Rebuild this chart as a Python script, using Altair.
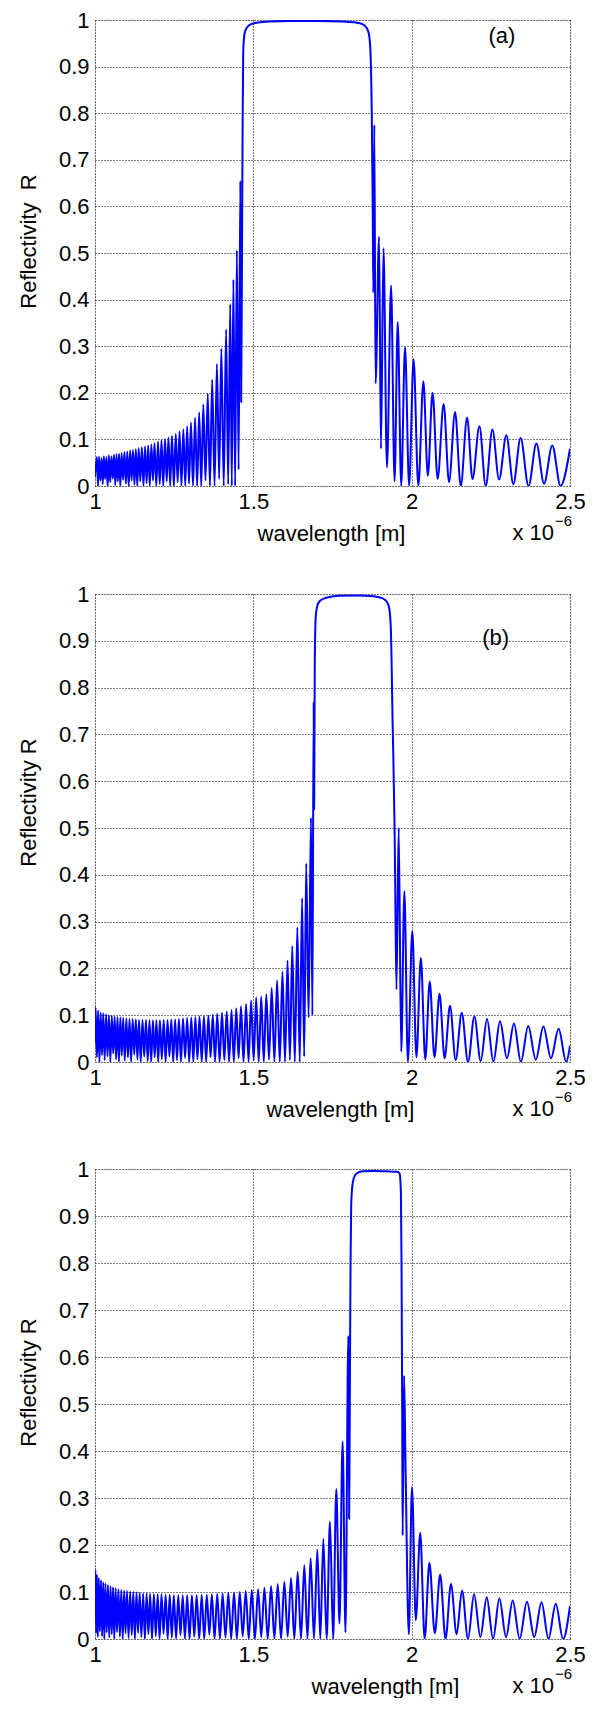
import altair as alt
import pandas as pd

FONT = "Liberation Sans"
BLUE = "#0000ff"
W = 475
FS = 22
XT_Y = 47

x_ticks = [1, 1.5, 2, 2.5]
y_ticks = [0, 0.1, 0.2, 0.3, 0.4, 0.5, 0.6, 0.7, 0.8, 0.9, 1]

# ---------------- panel (a) ----------------  (wavelength in units of 1e-6 m)
a_peak_wl = [1.006, 1.013, 1.021, 1.028, 1.036, 1.044, 1.052, 1.060, 1.068, 1.076, 1.084,
             1.093, 1.102, 1.111, 1.120, 1.129, 1.138, 1.148, 1.158, 1.168, 1.178, 1.188,
             1.199, 1.210, 1.221, 1.232, 1.243, 1.255, 1.267, 1.279, 1.291, 1.303, 1.316,
             1.329, 1.342, 1.356, 1.370, 1.385, 1.399, 1.414, 1.427, 1.437, 1.448, 1.459]
a_peak_r = [0.062, 0.063, 0.060, 0.064, 0.062, 0.066, 0.064, 0.067, 0.068, 0.069, 0.071,
            0.073, 0.074, 0.076, 0.077, 0.079, 0.081, 0.083, 0.085, 0.087, 0.089, 0.092,
            0.095, 0.098, 0.101, 0.104, 0.108, 0.112, 0.117, 0.122, 0.128, 0.136, 0.146,
            0.158, 0.175, 0.198, 0.228, 0.262, 0.295, 0.336, 0.390, 0.443, 0.506, 0.655]
a_trough_wl = [1.000, 1.0095, 1.017, 1.0245, 1.032, 1.040, 1.048, 1.056, 1.064, 1.072, 1.080,
               1.0885, 1.0975, 1.1065, 1.1155, 1.1245, 1.1335, 1.143, 1.153, 1.163, 1.173,
               1.183, 1.1935, 1.2045, 1.2155, 1.2265, 1.2375, 1.249, 1.261, 1.273, 1.285,
               1.297, 1.3095, 1.3225, 1.3355, 1.349, 1.363, 1.3775, 1.392, 1.4065, 1.4205,
               1.432, 1.4425, 1.4535]
a_trough_r = [0.02, 0.0, 0.012, 0.004, 0.015, 0.0, 0.008, 0.016, 0.002, 0.01, 0.0,
              0.013, 0.005, 0.0, 0.012, 0.003, 0.0, 0.01, 0.0, 0.006, 0.0,
              0.012, 0.0, 0.004, 0.0, 0.01, 0.0, 0.0, 0.008, 0.0, 0.0,
              0.005, 0.0, 0.0, 0.0, 0.012, 0.0, 0.0, 0.015, 0.0, 0.004,
              0.0, 0.0, 0.035]
a_band_wl = [1.4615, 1.464, 1.466, 1.468, 1.472, 1.478, 1.490, 1.510, 1.550, 1.620, 1.700,
             1.780, 1.820, 1.845, 1.857, 1.865, 1.870, 1.874, 1.877, 1.879, 1.882, 1.886]
a_band_r = [0.18, 0.47, 0.75, 0.93, 0.97, 0.982, 0.99, 0.994, 0.997, 0.998, 0.998,
            0.997, 0.995, 0.991, 0.984, 0.97, 0.93, 0.80, 0.60, 0.415, 0.775, 0.22]
a_right_wl = [1.897, 1.903, 1.911, 1.922, 1.935, 1.946, 1.956, 1.967, 1.979, 1.992, 2.006,
              2.021, 2.037, 2.051, 2.066, 2.082, 2.101, 2.118, 2.137, 2.155, 2.175, 2.192,
              2.214, 2.234, 2.255, 2.276, 2.299, 2.321, 2.344, 2.369, 2.394, 2.418, 2.444,
              2.470, 2.500]
a_right_r = [0.535, 0.08, 0.51, 0.04, 0.43, 0.01, 0.352, 0.0, 0.298, 0.0, 0.272,
             0.0, 0.225, 0.022, 0.2, 0.015, 0.176, 0.008, 0.159, 0.0, 0.147, 0.015,
             0.128, 0.0, 0.121, 0.014, 0.109, 0.004, 0.103, 0.0, 0.091, 0.005, 0.087,
             0.0, 0.08]

# ---------------- panel (b) ----------------
b_peak_wl = [1.002, 1.010, 1.018, 1.026, 1.035, 1.044, 1.053, 1.062, 1.071, 1.080, 1.089,
             1.099, 1.109, 1.119, 1.129, 1.139, 1.150, 1.161, 1.172, 1.183, 1.194, 1.205,
             1.217, 1.229, 1.241, 1.253, 1.265, 1.278, 1.291, 1.304, 1.317, 1.330, 1.344,
             1.358, 1.372, 1.386, 1.401, 1.416, 1.431, 1.446, 1.461, 1.477, 1.493, 1.509,
             1.525, 1.541, 1.558, 1.575, 1.592, 1.608, 1.623, 1.639, 1.654, 1.667, 1.682]
b_peak_r = [0.117, 0.110, 0.106, 0.104, 0.102, 0.100, 0.099, 0.097, 0.096, 0.095, 0.094,
            0.093, 0.092, 0.092, 0.091, 0.090, 0.090, 0.090, 0.089, 0.089, 0.089, 0.089,
            0.090, 0.090, 0.091, 0.091, 0.092, 0.093, 0.094, 0.095, 0.096, 0.097, 0.098,
            0.099, 0.101, 0.103, 0.105, 0.108, 0.111, 0.115, 0.119, 0.124, 0.131, 0.138,
            0.140, 0.145, 0.158, 0.174, 0.193, 0.217, 0.248, 0.288, 0.350, 0.424, 0.522]
b_trough_wl = [1.000, 1.006, 1.014, 1.022, 1.0305, 1.0395, 1.0485, 1.0575, 1.0665, 1.0755,
               1.0845, 1.094, 1.104, 1.114, 1.124, 1.134, 1.1445, 1.1555, 1.1665, 1.1775,
               1.1885, 1.1995, 1.211, 1.223, 1.235, 1.247, 1.259, 1.2715, 1.2845, 1.2975,
               1.3105, 1.3235, 1.337, 1.351, 1.365, 1.379, 1.3935, 1.4085, 1.4235, 1.4385,
               1.4535, 1.469, 1.485, 1.501, 1.517, 1.533, 1.5495, 1.5665, 1.5835, 1.600,
               1.6155, 1.631, 1.6465, 1.6605, 1.6745]
b_trough_r = [0.04, 0.01, 0.0, 0.015, 0.004, 0.012, 0.0, 0.018, 0.006, 0.0,
              0.014, 0.003, 0.01, 0.0, 0.016, 0.005, 0.0, 0.012, 0.002, 0.0,
              0.01, 0.0, 0.006, 0.0, 0.012, 0.0, 0.004, 0.0, 0.009, 0.0,
              0.0, 0.006, 0.0, 0.0, 0.01, 0.0, 0.0, 0.004, 0.0, 0.0,
              0.008, 0.0, 0.0, 0.003, 0.0, 0.0, 0.005, 0.0, 0.0, 0.0,
              0.004, 0.0, 0.0, 0.012, 0.095]
b_band_wl = [1.6865, 1.6905, 1.692, 1.694, 1.697, 1.702, 1.710, 1.730, 1.770, 1.830, 1.880,
             1.910, 1.922, 1.929, 1.934, 1.940, 1.946, 1.948, 1.952]
b_band_r = [0.10, 0.77, 0.54, 0.85, 0.95, 0.975, 0.985, 0.992, 0.996, 0.997, 0.995,
            0.99, 0.983, 0.97, 0.93, 0.72, 0.50, 0.38, 0.155]
b_right_wl = [1.959, 1.967, 1.977, 1.988, 2.002, 2.015, 2.029, 2.043, 2.057, 2.072, 2.088,
              2.104, 2.121, 2.139, 2.158, 2.178, 2.198, 2.218, 2.238, 2.258, 2.279, 2.301,
              2.323, 2.345, 2.368, 2.392, 2.416, 2.440, 2.464, 2.488, 2.500]
b_right_r = [0.50, 0.022, 0.365, 0.0, 0.28, 0.01, 0.222, 0.005, 0.172, 0.01, 0.146,
             0.008, 0.12, 0.004, 0.105, 0.0, 0.097, 0.002, 0.092, 0.0, 0.087, 0.008,
             0.082, 0.0, 0.077, 0.005, 0.076, 0.008, 0.071, 0.0, 0.035]

# ---------------- panel (c) ----------------
c_peak_wl = [1.001, 1.006, 1.012, 1.019, 1.026, 1.033, 1.041, 1.049, 1.057, 1.065, 1.074,
             1.083, 1.092, 1.101, 1.111, 1.121, 1.131, 1.141, 1.152, 1.163, 1.174, 1.186,
             1.198, 1.210, 1.223, 1.236, 1.249, 1.263, 1.277, 1.291, 1.306, 1.321, 1.337,
             1.353, 1.369, 1.386, 1.403, 1.421, 1.439, 1.457, 1.476, 1.495, 1.515, 1.535,
             1.556, 1.577, 1.598, 1.619, 1.640, 1.661, 1.681, 1.702, 1.721, 1.742, 1.762,
             1.782, 1.800]
c_peak_r = [0.147, 0.137, 0.130, 0.125, 0.121, 0.118, 0.115, 0.112, 0.110, 0.108, 0.106,
            0.104, 0.103, 0.102, 0.101, 0.100, 0.099, 0.098, 0.097, 0.097, 0.096, 0.096,
            0.095, 0.095, 0.094, 0.094, 0.093, 0.093, 0.093, 0.093, 0.093, 0.093, 0.094,
            0.094, 0.095, 0.096, 0.097, 0.098, 0.099, 0.100, 0.102, 0.104, 0.106, 0.109,
            0.113, 0.117, 0.122, 0.130, 0.143, 0.157, 0.172, 0.190, 0.213, 0.250, 0.319,
            0.420, 0.645]
c_trough_wl = [1.000, 1.0035, 1.009, 1.0155, 1.0225, 1.0295, 1.037, 1.045, 1.053, 1.061,
               1.0695, 1.0785, 1.0875, 1.0965, 1.106, 1.116, 1.126, 1.136, 1.1465, 1.1575,
               1.1685, 1.180, 1.192, 1.204, 1.2165, 1.2295, 1.2425, 1.256, 1.270, 1.284,
               1.2985, 1.3135, 1.329, 1.345, 1.361, 1.3775, 1.3945, 1.412, 1.430, 1.448,
               1.4665, 1.4855, 1.505, 1.525, 1.5455, 1.5665, 1.5875, 1.6085, 1.6295, 1.6505,
               1.671, 1.6915, 1.7115, 1.7315, 1.752, 1.772, 1.791]
c_trough_r = [0.05, 0.012, 0.004, 0.016, 0.006, 0.0, 0.014, 0.003, 0.01, 0.0,
              0.015, 0.005, 0.0, 0.012, 0.002, 0.009, 0.0, 0.013, 0.004, 0.0,
              0.01, 0.0, 0.006, 0.0, 0.011, 0.0, 0.003, 0.0, 0.008, 0.0,
              0.0, 0.005, 0.0, 0.0, 0.009, 0.0, 0.0, 0.003, 0.0, 0.0,
              0.006, 0.0, 0.0, 0.004, 0.0, 0.0, 0.0, 0.005, 0.0, 0.0,
              0.0, 0.0, 0.0, 0.0, 0.0, 0.033, 0.014]
c_band_wl = [1.8025, 1.805, 1.807, 1.809, 1.812, 1.817, 1.825, 1.845, 1.880, 1.920, 1.955,
             1.962, 1.966, 1.968, 1.970, 1.9715, 1.976, 1.980]
c_band_r = [0.256, 0.55, 0.80, 0.92, 0.96, 0.98, 0.99, 0.995, 0.996, 0.995, 0.994,
            0.99, 0.95, 0.80, 0.50, 0.22, 0.56, 0.40]
c_right_wl = [1.991, 2.001, 2.013, 2.027, 2.041, 2.056, 2.073, 2.090, 2.107, 2.124, 2.142,
              2.159, 2.178, 2.197, 2.217, 2.237, 2.257, 2.277, 2.298, 2.319, 2.341, 2.364,
              2.387, 2.410, 2.432, 2.455, 2.478, 2.500]
c_right_r = [0.01, 0.323, 0.04, 0.226, 0.0, 0.162, 0.012, 0.137, 0.0, 0.117, 0.01,
             0.103, 0.0, 0.095, 0.004, 0.089, 0.0, 0.086, 0.004, 0.082, 0.0, 0.079,
             0.004, 0.078, 0.0, 0.075, 0.0, 0.07]


def series(*pairs):
    rows = []
    for xs, ys in pairs:
        assert len(xs) == len(ys), (len(xs), len(ys))
        rows += list(zip(xs, ys))
    rows.sort(key=lambda t: t[0])
    return pd.DataFrame(rows, columns=["wl", "R"])


def panel(df, height, ylabel, title_x, ytitle_shift, tag=None):
    x = alt.X("wl:Q",
              scale=alt.Scale(domain=[1, 2.5], nice=False, zero=False),
              axis=alt.Axis(values=x_ticks, format="~g", title="wavelength [m]",
                            grid=True, gridColor="#000", gridDash=[1, 2], gridWidth=1,
                            gridOpacity=1, ticks=False, domain=False,
                            labelFontSize=FS, labelPadding=5, labelColor="#000",
                            labelFont=FONT, labelFlush=False, labelOverlap=False,
                            titleFont=FONT, titleFontSize=FS, titleFontWeight="normal",
                            titleColor="#000", titleX=title_x, titleY=XT_Y,
                            titleBaseline="middle", titleAlign="center"))
    y = alt.Y("R:Q",
              scale=alt.Scale(domain=[0, 1], nice=False, zero=False),
              axis=alt.Axis(values=y_ticks, format="~g", title=ylabel,
                            grid=True, gridColor="#000", gridDash=[1, 2], gridWidth=1,
                            gridOpacity=1, ticks=False, domain=False,
                            labelFontSize=FS, labelPadding=6, labelColor="#000",
                            labelFont=FONT, labelOverlap=False,
                            titleFont=FONT, titleFontSize=FS, titleFontWeight="normal",
                            titleColor="#000", titleX=-67, titleY=height / 2 - ytitle_shift,
                            titleAngle=-90, titleBaseline="middle", titleAlign="center"))
    line = alt.Chart(df).mark_line(color=BLUE, strokeWidth=2.0, interpolate="monotone",
                                   clip=True).encode(x=x, y=y)
    layers = [line]
    exp1 = alt.Chart(pd.DataFrame({"t": ["x 10"]})).mark_text(
        font=FONT, fontSize=FS, color="#000", align="right", baseline="middle"
    ).encode(x=alt.value(W - 16), y=alt.value(height + XT_Y), text="t:N")
    exp2 = alt.Chart(pd.DataFrame({"t": ["\u22126"]})).mark_text(
        font=FONT, fontSize=15, color="#000", align="left", baseline="middle"
    ).encode(x=alt.value(W - 15), y=alt.value(height + XT_Y - 12), text="t:N")
    layers += [exp1, exp2]
    if tag is not None:
        tdf = pd.DataFrame({"wl": [tag[1]], "R": [tag[2]], "t": [tag[0]]})
        layers.append(alt.Chart(tdf).mark_text(
            font=FONT, fontSize=FS, color="#000", align="center", baseline="middle"
        ).encode(x=x, y=y, text="t:N"))
    return alt.layer(*layers).properties(width=W, height=height)


df_a = series((a_peak_wl, a_peak_r), (a_trough_wl, a_trough_r),
              (a_band_wl, a_band_r), (a_right_wl, a_right_r))
df_b = series((b_peak_wl, b_peak_r), (b_trough_wl, b_trough_r),
              (b_band_wl, b_band_r), (b_right_wl, b_right_r))
df_c = series((c_peak_wl, c_peak_r), (c_trough_wl, c_trough_r),
              (c_band_wl, c_band_r), (c_right_wl, c_right_r))

pa = panel(df_a, 466, "Reflectivity\u00a0 R", 236, 12, ("(a)", 2.285, 0.966))
pb = panel(df_b, 468, "Reflectivity R", 245, 26, ("(b)", 2.265, 0.906))
pc = panel(df_c, 470, "Reflectivity R", 290, 22)

chart = alt.vconcat(alt.vconcat(pa, pb, spacing=37), pc, spacing=36).properties(
    padding={"left": 8, "top": 0, "right": 5, "bottom": 0}
).configure_view(stroke="#000", strokeWidth=1).configure(background="white")

chart.save("out.html", embed_options={"renderer": "svg", "actions": False})
